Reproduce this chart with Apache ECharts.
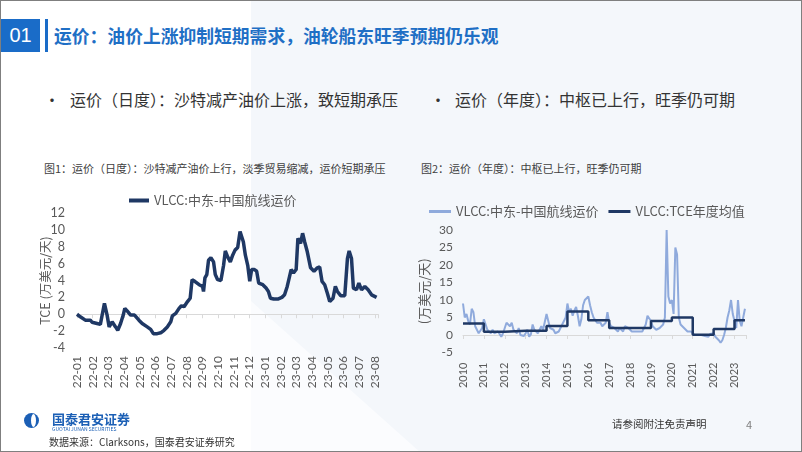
<!DOCTYPE html>
<html lang="zh-CN">
<head>
<meta charset="UTF-8">
<title>运价</title>
<script src="https://cdn.jsdelivr.net/npm/echarts@6/dist/echarts.min.js"></script>
<style>
  * { margin: 0; padding: 0; }
  body { width: 802px; height: 452px; overflow: hidden; background: #fff; font-family: "Noto Sans CJK SC", sans-serif; }
  .slide { position: relative; width: 802px; height: 452px; box-sizing: border-box; border: 1px solid #7f7f7f; overflow: hidden; }
  .bg1 { position: absolute; left: 0; top: 0; width: 802px; height: 452px; background: #f4f7fb;
         clip-path: polygon(250px 0, 802px 0, 802px 452px, 250px 452px); }
  .bg2 { position: absolute; left: 0; top: 0; width: 802px; height: 452px; background: #fbfcfe;
         clip-path: polygon(250px 300px, 420px 452px, 250px 452px); }
  .abs { position: absolute; white-space: nowrap; }
  .num { left: 0; top: 18px; width: 39px; height: 33px; line-height: 33px; background: #1a6cc8; color: #fff;
         font-family: "Liberation Sans", sans-serif; font-size: 20px; text-align: center; }
  .bar { left: 44px; top: 18px; width: 3px; height: 33px; background: #1a6cc8; }
  .head { left: 53px; top: 23px; line-height: 22px; font-size: 17.8px; font-weight: bold; color: #1f6fc5; }
  .bullet { top: 88px; line-height: 20px; font-size: 16px; color: #333; }
  .ctitle { top: 160px; line-height: 14px; font-size: 11px; color: #404040; }
  .chart { position: absolute; top: 175px; width: 400px; height: 250px; }
  .logo { left: 23px; top: 412px; width: 15px; height: 15px; border-radius: 50%; background: #1b5fb5; overflow: hidden; }
  .logo i { position: absolute; left: 7px; top: 1px; width: 5px; height: 13px; border-radius: 50%; background: #fff; }
  .brand { left: 51px; top: 410px; line-height: 15px; font-size: 13px; font-weight: bold; color: #1b5fb5; }
  .brand2 { left: 51px; top: 425px; line-height: 6px; font-size: 5px; color: #1b5fb5; }
  .src { left: 48px; top: 434px; line-height: 14px; font-size: 10px; color: #333; }
  .note { left: 611px; top: 416px; line-height: 14px; font-size: 10.5px; color: #333; }
  .page { left: 745px; top: 416px; line-height: 14px; font-size: 11px; color: #7f7f7f; }
</style>
</head>
<body>
<div class="slide">
  <div class="bg1"></div>
  <div class="bg2"></div>
  <div class="abs num">01</div>
  <div class="abs bar"></div>
  <div class="abs head">运价：油价上涨抑制短期需求，油轮船东旺季预期仍乐观</div>
  <div class="abs bullet" style="left:43px">•</div>
  <div class="abs bullet" style="left:69px">运价（日度）：沙特减产油价上涨，致短期承压</div>
  <div class="abs bullet" style="left:429px">•</div>
  <div class="abs bullet" style="left:454px">运价（年度）：中枢已上行，旺季仍可期</div>
  <div class="abs ctitle" style="left:43px">图1：运价（日度）：沙特减产油价上行，淡季贸易缩减，运价短期承压</div>
  <div class="abs ctitle" style="left:420px">图2：运价（年度）：中枢已上行，旺季仍可期</div>
  <div class="chart" id="daily" style="left:0"></div>
  <div class="chart" id="yearly" style="left:400px"></div>
  <div class="abs logo"><i></i></div>
  <div class="abs brand">国泰君安证券</div>
  <div class="abs brand2">GUOTAI JUNAN SECURITIES</div>
  <div class="abs src">数据来源：Clarksons，国泰君安证券研究</div>
  <div class="abs note">请参阅附注免责声明</div>
  <div class="abs page">4</div>
</div>

<script>
  // 图1：日度运价，x 为自 2022-01 起的月数
  var monthLabels = ['22-01', '22-02', '22-03', '22-04', '22-05', '22-06', '22-07', '22-08', '22-09', '22-10',
    '22-11', '22-12', '23-01', '23-02', '23-03', '23-04', '23-05', '23-06', '23-07', '23-08']
  var dayX = [0, 0.21, 0.53, 0.85, 0.96, 1.28, 1.49, 1.6, 1.75, 1.79, 1.92, 2.05, 2.24, 2.46, 2.6, 2.78, 2.95,
    3.05, 3.2, 3.42, 3.67, 3.95, 4.16, 4.48, 4.7, 4.87, 5.12, 5.34, 5.55, 5.76, 5.98, 6.08, 6.3, 6.51, 6.66,
    6.83, 7.05, 7.22, 7.34, 7.51, 7.79, 8.01, 8.07, 8.16, 8.28, 8.39, 8.54, 8.71, 8.82, 8.97, 9.18, 9.35,
    9.46, 9.61, 9.78, 9.93, 10.08, 10.25, 10.4, 10.5, 10.61, 10.74, 10.89, 11.02, 11.14, 11.32, 11.46,
    11.59, 11.85, 12.06, 12.21, 12.34, 12.55, 12.81, 13.07, 13.24, 13.41, 13.56, 13.66, 13.81, 13.98,
    14.09, 14.26, 14.39, 14.52, 14.69, 14.9, 15.12, 15.33, 15.48, 15.63, 15.8, 15.97, 16.12, 16.33, 16.48,
    16.61, 16.82, 17.08, 17.25, 17.36, 17.51, 17.63, 17.83, 17.98, 18.15, 18.36, 18.57, 18.79, 19.11]
  var dayY = [0, -0.3, -0.7, -0.7, -0.95, -1.1, -1.2, -1.2, 1.3, 1.5, -0.1, -1.5, -0.9, -1.5, -1.9, -1.1, -0.1,
    0.7, 0.4, -0.1, -0.1, -0.7, -1.1, -1.5, -1.8, -2.3, -2.3, -2.2, -1.9, -1.5, -0.9, -0.2, 0.1, 0.7, 1.0,
    0.9, 1.5, 1.9, 4.1, 3.9, 3.5, 3.3, 2.7, 4.3, 4.7, 6.4, 6.7, 6.2, 4.7, 4.1, 4.0, 5.8,
    7.5, 6.8, 6.2, 7.0, 7.6, 7.9, 9.8, 9.9, 8.6, 7.0, 5.8, 3.9, 5.3, 5.3, 5.1,
    3.7, 3.5, 3.1, 2.7, 1.9, 1.8, 1.8, 2.0, 2.3, 3.3, 4.5, 5.3, 4.9, 5.3,
    9.0, 8.4, 9.6, 8.6, 7.4, 5.5, 5.1, 5.5, 5.6, 3.9, 3.5, 2.5, 1.5, 1.9, 3.3,
    2.7, 2.2, 2.2, 6.6, 7.5, 6.6, 3.1, 2.9, 3.7, 2.9, 3.3, 2.9, 2.3, 2.0]

  // 图2：月度运价（2010-01 起）与年度均值
  var spotStartYear = 2010
  var spotMonthly = [
    9.0, 5.0, 6.0, 4.0, 3.0, 7.5, 6.5, 2.5, 1.5, 0.5, 1.0, 2.0,
    4.5, 3.0, 1.5, 1.0, 0.5, 1.5, 0.5, 0.0, 1.0, 0.3, -0.5, 0.5,
    2.0, 3.5, 4.0, 2.5, 3.5, 1.5, 1.0, 0.5, 2.0, 0.0, -0.5, -0.3,
    0.5, 1.5, -0.5, 0.2, 3.0, 1.5, 1.0, 0.5, 0.0, 2.5, 1.5, 1.0,
    6.0, 4.0, 2.0, 2.5, 1.5, 0.5, 0.0, 1.0, 2.0, 3.0, 3.5, 5.0,
    9.0, 6.5, 7.5, 5.5, 7.0, 8.0, 5.5, 2.5, 4.5, 8.5, 10.0, 10.5,
    11.0, 8.5, 6.5, 5.0, 4.5, 3.5, 3.0, 3.5, 2.5, 2.0, 3.5, 6.5,
    3.5, 2.5, 3.0, 2.0, 1.5, 1.0, 2.0, 1.5, 1.0, 2.5, 3.0, 2.0,
    1.5, 1.0, 0.5, 1.0, 0.5, 1.0, 1.5, 1.0, 2.0, 3.0, 5.5, 5.0,
    4.0, 2.5, 2.0, 1.5, 1.0, 2.0, 2.5, 3.0, 5.0, 30.0, 11.0, 9.0,
    10.0, 6.0, 25.0, 23.0, 5.0, 3.0, 2.5, 2.0, 1.5, 1.0, 1.5, 1.0,
    0.5, 0.0, -0.3, 0.0, -0.5, 0.0, 0.2, -0.3, 0.0, -0.5, 0.3, 0.5,
    0.5, -0.5, -1.0, -1.5, -2.2, -1.5, 0.0, 2.0, 5.0, 7.0, 10.0, 6.0,
    4.0, 2.0, 10.0, 4.0, 2.5, 3.0, 7.5]
  var yearAvg = [3.3, 0.9, 1.2, 1.2, 2.6, 6.7, 4.2, 2.0, 2.0, 4.0, 5.0, 0.1, 1.7, 4.2]
  var lastDate = 2023.5

  var labelColor = '#595959'
  var navy = '#1f3864'
  var lightBlue = '#8faadc'

  var dailyChart = echarts.init(document.getElementById('daily'))
  var yearlyChart = echarts.init(document.getElementById('yearly'))

  var dailyOption = {
    animation: false,
    legend: {
      left: 123, top: 13,
      icon: 'rect', itemWidth: 20, itemHeight: 4, itemGap: 10,
      textStyle: { fontSize: 13, color: labelColor, fontFamily: 'Noto Sans CJK SC' },
      data: ['VLCC:中东-中国航线运价']
    },
    grid: { left: 76, top: 37, width: 301, height: 135, outerBoundsMode: 'none' },
    xAxis: {
      type: 'value', min: 0, max: 19.2, interval: 1,
      axisLine: { onZero: true, lineStyle: { color: '#d9d9d9' } },
      axisTick: { show: true, length: 4, lineStyle: { color: '#d9d9d9' } },
      splitLine: { show: false },
      axisLabel: {
        rotate: 90, margin: 8, fontSize: 12, color: labelColor, fontFamily: 'Lato',
        formatter: function (v) { return monthLabels[v] || '' }
      }
    },
    yAxis: {
      type: 'value', min: -4, max: 12, interval: 2,
      name: 'TCE (万美元/天)', nameLocation: 'middle', nameRotate: 90, nameGap: 25,
      nameMoveOverlap: false,
      nameTextStyle: { fontSize: 12.5, color: labelColor, fontFamily: 'Noto Sans CJK SC' },
      axisLine: { show: false }, axisTick: { show: false }, splitLine: { show: false },
      axisLabel: { margin: 12, fontSize: 12.5, color: labelColor, fontFamily: 'Lato' }
    },
    series: [{
      name: 'VLCC:中东-中国航线运价',
      type: 'line',
      showSymbol: false,
      lineStyle: { width: 3.5, color: navy },
      itemStyle: { color: navy },
      data: dayX.map(function (x, i) { return [x, dayY[i]] })
    }]
  }

  var avgData = yearAvg.map(function (v, i) { return [spotStartYear + i, v] })
  avgData.push([lastDate, yearAvg[yearAvg.length - 1]])

  var yearlyOption = {
    animation: false,
    legend: {
      left: 23, top: 24,
      icon: 'rect', itemWidth: 22, itemHeight: 3, itemGap: 10,
      textStyle: { fontSize: 13, color: labelColor, fontFamily: 'Noto Sans CJK SC' },
      data: ['VLCC:中东-中国航线运价', 'VLCC:TCE年度均值']
    },
    grid: { left: 62, top: 54, width: 283, height: 122.5, outerBoundsMode: 'none' },
    xAxis: {
      type: 'value', min: spotStartYear, max: 2023.55, interval: 1,
      axisLine: { onZero: true, lineStyle: { color: '#d9d9d9' } },
      axisTick: { show: true, length: 4, lineStyle: { color: '#d9d9d9' } },
      splitLine: { show: false },
      axisLabel: {
        rotate: 90, margin: 10, fontSize: 11, color: labelColor, fontFamily: 'Lato',
        formatter: function (v) { return v % 1 === 0 ? String(v) : '' }
      }
    },
    yAxis: {
      type: 'value', min: -5, max: 30, interval: 5,
      name: '(万美元/天)', nameLocation: 'middle', nameRotate: 90, nameGap: 32,
      nameMoveOverlap: false,
      nameTextStyle: { fontSize: 13, color: labelColor, fontFamily: 'Noto Sans CJK SC' },
      axisLine: { show: false }, axisTick: { show: false }, splitLine: { show: false },
      axisLabel: { margin: 10, fontSize: 12, color: labelColor, fontFamily: 'Lato' }
    },
    series: [{
      name: 'VLCC:中东-中国航线运价',
      type: 'line',
      showSymbol: false,
      lineStyle: { width: 2, color: lightBlue },
      itemStyle: { color: lightBlue },
      data: spotMonthly.map(function (v, i) { return [spotStartYear + i / 12, v] })
    }, {
      name: 'VLCC:TCE年度均值',
      type: 'line',
      step: 'end',
      showSymbol: false,
      lineStyle: { width: 2.5, color: navy },
      itemStyle: { color: navy },
      data: avgData
    }]
  }

  dailyChart.setOption(dailyOption)
  yearlyChart.setOption(yearlyOption)
</script>
</body>
</html>
